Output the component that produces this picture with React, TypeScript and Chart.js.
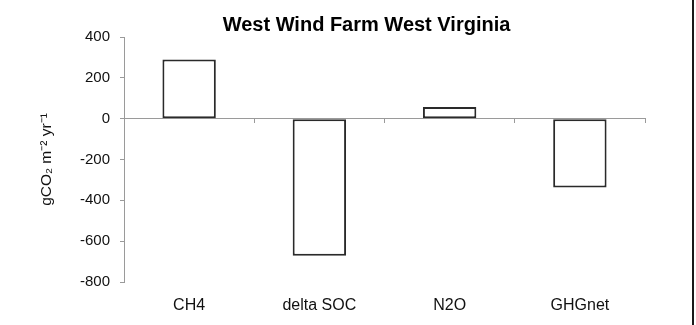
import React, { useEffect, useRef } from 'react';
import { Chart, registerables } from 'chart.js';

Chart.register(...registerables);

const categories = ['CH4', 'delta SOC', 'N2O', 'GHGnet'];
const fluxValues = [290, -672, 57, -337];
const yTicks = [400, 200, 0, -200, -400, -600, -800];
const titleText = 'West Wind Farm West Virginia';
const yAxisTitle = 'gCO₂ m⁻² yr⁻¹';

const FONT = '"Liberation Sans", Arial, Helvetica, sans-serif';

export default function App() {
  const ref = useRef<HTMLCanvasElement>(null);

  useEffect(() => {
    document.body.style.margin = '0';
    document.body.style.overflow = 'hidden';
    const chart = new Chart(ref.current!, {
      type: 'bar',
      data: {
        labels: categories,
        datasets: [
          {
            data: fluxValues,
            backgroundColor: '#ffffff',
            borderColor: '#2a2a2a',
            borderWidth: 2,
            borderSkipped: false,
            barPercentage: 0.41,
            categoryPercentage: 1,
          },
        ],
      },
      options: {
        responsive: false,
        animation: false,
        devicePixelRatio: 1,
        layout: { padding: { left: 37, right: 0, top: 0, bottom: 12 } },
        plugins: {
          legend: { display: false },
          tooltip: { enabled: false },
          title: {
            display: true,
            text: titleText,
            color: '#000',
            font: { family: FONT, size: 20, weight: 'bold' },
            padding: { top: 13, bottom: 0 },
          },
        },
        scales: {
          x: {
            type: 'category',
            position: 'bottom',
            offset: true,
            grid: { display: false },
            border: { display: false },
            ticks: { color: '#111', font: { family: FONT, size: 16 }, padding: 6 },
            afterFit: (s: any) => {
              s.height = 31;
            },
          },
          x0: {
            type: 'category',
            axis: 'x',
            position: { y: 0 },
            offset: true,
            grid: {
              display: true,
              offset: true,
              drawOnChartArea: false,
              drawTicks: true,
              tickLength: 4,
              color: '#9a9a9a',
            },
            border: { display: true, color: '#9a9a9a', width: 1 },
            ticks: { display: false },
            afterFit: (s: any) => {
              s.height = 0;
            },
          },
          y: {
            type: 'linear',
            position: 'left',
            min: yTicks[yTicks.length - 1],
            max: yTicks[0],
            afterBuildTicks: (s: any) => {
              s.ticks = yTicks.map((v) => ({ value: v }));
            },
            grid: {
              drawOnChartArea: false,
              drawTicks: true,
              tickLength: 4,
              color: '#9a9a9a',
            },
            border: { display: true, color: '#9a9a9a', width: 1 },
            ticks: { color: '#111', font: { family: FONT, size: 15 }, padding: 10 },
            title: {
              display: true,
              text: yAxisTitle,
              color: '#111',
              font: { family: FONT, size: 15.5 },
              padding: { top: 0, bottom: 17 },
            },
            afterFit: (s: any) => {
              s.width = 87;
            },
          },
          yR: {
            type: 'linear',
            position: 'right',
            display: true,
            grid: { display: false },
            border: { display: false },
            ticks: { display: false },
            afterFit: (s: any) => {
              s.width = 51;
            },
          },
        },
      } as any,
    });
    return () => chart.destroy();
  }, []);

  return (
    <div style={{ position: 'fixed', left: 0, top: 0, width: 696, height: 325, background: '#fff' }}>
      <canvas ref={ref} width={696} height={325} style={{ display: 'block' }} />
      <div style={{ position: 'absolute', left: 692, top: 0, width: 2, height: 325, background: '#1a1a1a' }} />
    </div>
  );
}
